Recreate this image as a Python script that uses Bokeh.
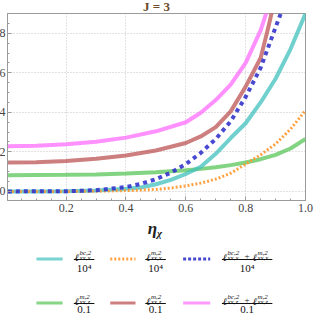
from bokeh.plotting import figure
from bokeh.layouts import column
from bokeh.models import Range1d, FixedTicker
from bokeh.core.properties import value
from bokeh.embed import file_html
from bokeh.resources import INLINE

# ---------------- data ----------------
x_cyan = [0.005, 0.1, 0.2, 0.3, 0.4, 0.45, 0.5, 0.55, 0.6, 0.65, 0.7, 0.75, 0.8, 0.85, 0.9, 0.95, 1.0]
y_cyan = [0.0, 0.0, 0.01, 0.05, 0.13, 0.2, 0.36, 0.58, 0.88, 1.25, 1.9, 2.7, 3.45, 4.5, 5.7, 7.2, 9.0]

x_orange = [0.005, 0.2, 0.3, 0.4, 0.5, 0.55, 0.6, 0.65, 0.7, 0.75, 0.8, 0.85, 0.9, 0.95, 1.0]
y_orange = [0.0, 0.0, 0.01, 0.04, 0.1, 0.17, 0.28, 0.42, 0.62, 0.92, 1.38, 1.85, 2.4, 3.15, 4.1]

x_blue = [0.005, 0.2, 0.3, 0.4, 0.45, 0.5, 0.55, 0.6, 0.65, 0.7, 0.75, 0.8, 0.85, 0.9, 0.925]
y_blue = [0.0, 0.01, 0.06, 0.22, 0.38, 0.62, 0.95, 1.38, 1.95, 2.65, 3.55, 4.78, 6.25, 8.3, 9.3]

x_green = [0.005, 0.1, 0.2, 0.3, 0.4, 0.5, 0.6, 0.65, 0.7, 0.75, 0.8, 0.85, 0.9, 0.95, 1.0]
y_green = [0.82, 0.83, 0.84, 0.86, 0.9, 0.97, 1.07, 1.14, 1.22, 1.33, 1.46, 1.63, 1.85, 2.17, 2.65]

x_red = [0.005, 0.1, 0.2, 0.3, 0.4, 0.5, 0.6, 0.65, 0.7, 0.75, 0.8, 0.85, 0.875, 0.9]
y_red = [1.46, 1.48, 1.54, 1.65, 1.82, 2.07, 2.45, 2.78, 3.25, 4.05, 5.3, 6.75, 8.25, 9.9]

x_pink = [0.005, 0.1, 0.2, 0.3, 0.4, 0.5, 0.6, 0.65, 0.7, 0.75, 0.8, 0.85, 0.875]
y_pink = [2.28, 2.31, 2.38, 2.51, 2.72, 3.04, 3.5, 3.98, 4.62, 5.4, 6.5, 8.15, 9.3]

x_ticks = [0.2, 0.4, 0.6, 0.8, 1.0]
x_tick_labels = ["0.2", "0.4", "0.6", "0.8", "1.0"]
y_ticks = [0, 2, 4, 6, 8]

title_text = "J = 3"
denominators = ["10⁴", "10⁴", "10⁴", "0.1", "0.1", "0.1"]
numerators = [
    [("bc,2", "xx,x")],
    [("m,2", "xx,x")],
    [("bc,2", "xx,x"), ("m,2", "xx,x")],
    [("m,2", "xx,z")],
    [("m,2", "xx,z")],
    [("bc,2", "xx,z"), ("m,2", "xx,z")],
]

SERIF = "Liberation Serif"

# ---------------- main plot ----------------
p = figure(width=319, height=218, output_backend="svg", toolbar_location=None,
           x_range=Range1d(0.004, 1.0), y_range=Range1d(-0.46, 9.0),
           min_border_left=0, min_border_right=10, min_border_top=0, min_border_bottom=0)
p.background_fill_color = "white"
p.border_fill_color = "white"
p.outline_line_color = "#9a9a9a"
p.outline_line_width = 1

p.title.text = title_text
p.title.align = "center"
p.title.text_font = SERIF
p.title.text_font_style = "bold"
p.title.text_font_size = "13px"
p.title.text_color = "#6e4c2a"
p.title.standoff = 0
p.title.offset = 0

p.xaxis.ticker = FixedTicker(ticks=x_ticks, minor_ticks=[i * 0.05 for i in range(1, 20)])
p.xaxis.major_label_overrides = {t: s for t, s in zip(x_ticks, x_tick_labels)}
p.yaxis.ticker = FixedTicker(ticks=y_ticks, minor_ticks=[i * 0.5 for i in range(0, 19)])
for ax in (p.xaxis[0], p.yaxis[0]):
    ax.axis_line_color = "#9a9a9a"
    ax.major_tick_line_color = "#9a9a9a"
    ax.minor_tick_line_color = "#9a9a9a"
    ax.major_tick_in = 4
    ax.major_tick_out = 0
    ax.minor_tick_in = 2
    ax.minor_tick_out = 0
    ax.major_label_text_font = SERIF
    ax.major_label_text_font_size = "12px"
    ax.major_label_text_color = "#444444"
p.xaxis.major_label_standoff = 3
p.yaxis.major_label_standoff = 2

p.xgrid.ticker = FixedTicker(ticks=x_ticks)
p.ygrid.ticker = FixedTicker(ticks=y_ticks)
for g in (p.xgrid[0], p.ygrid[0]):
    g.grid_line_color = "#c4c4c4"
    g.grid_line_dash = "1 2"
    g.grid_line_width = 1

styles = [
    (x_green, y_green, "#52c452", 0.72, 4, "solid"),
    (x_red, y_red, "#b84848", 0.7, 4, "solid"),
    (x_pink, y_pink, "#ff6cff", 0.75, 4, "solid"),
    (x_cyan, y_cyan, "#40c0bc", 0.75, 4, "solid"),
    (x_orange, y_orange, "#ff9830", 0.9, 3, "2 2"),
    (x_blue, y_blue, "#3434cc", 0.9, 4, "4 4"),
]
for xs, ys, c, a, w, d in styles:
    p.line(xs, ys, line_color=c, line_alpha=a, line_width=w, line_dash=d)

# ---------------- legend / axis-label panel ----------------
leg = figure(width=319, height=108, output_backend="svg", toolbar_location=None,
             x_range=Range1d(0, 319), y_range=Range1d(326, 218),
             min_border=0, min_border_left=0, min_border_right=0,
             min_border_top=0, min_border_bottom=0)
leg.axis.visible = False
leg.grid.visible = False
leg.outline_line_color = None
leg.background_fill_color = "white"
leg.border_fill_color = "white"

# x-axis label  η_χ
leg.text([160], [232], text=["η"], text_font=value(SERIF), text_font_style="bold italic",
         text_font_size="17px", text_align="right", text_baseline="alphabetic", text_color="#222222")
leg.text([160], [236], text=["χ"], text_font=value(SERIF), text_font_style="bold italic",
         text_font_size="11px", text_align="left", text_baseline="alphabetic", text_color="#222222")

leg_colors = ["#40c0bc", "#ff9830", "#3434cc", "#52c452", "#b84848", "#ff6cff"]
leg_alpha = [0.7, 0.9, 0.9, 0.7, 0.7, 0.7]
leg_dash = ["solid", "2 2", "3 2", "solid", "solid", "solid"]
sample_x = [(31, 59), (110, 137), (188, 217)]
frac_cx = [82, 158.5, 256.5]
row_y = [263, 307]

for i in range(6):
    r, ccol = divmod(i, 3)
    by = row_y[r]
    x1, x2 = sample_x[ccol]
    leg.line([x1, x2], [by - 0.5, by - 0.5], line_color=leg_colors[i], line_alpha=leg_alpha[i],
             line_width=3, line_dash=leg_dash[i])
    terms = numerators[i]
    term_w = 20
    plus_w = 12
    total = term_w * len(terms) + plus_w * (len(terms) - 1)
    cx = frac_cx[ccol]
    x0 = cx - total / 2
    for k, (sup, sub) in enumerate(terms):
        tx = x0 + k * (term_w + plus_w)
        leg.text([tx], [by - 2], text=["ℓ"], text_font=value("DejaVu Serif"), text_font_style="italic",
                 text_font_size="10px", text_align="left", text_baseline="alphabetic", text_color="#111111")
        leg.text([tx + 5], [by - 7], text=[sup], text_font=value(SERIF), text_font_style="italic",
                 text_font_size="7px", text_align="left", text_baseline="alphabetic", text_color="#111111")
        leg.text([tx + 5], [by - 2], text=[sub], text_font=value(SERIF), text_font_style="italic",
                 text_font_size="7px", text_align="left", text_baseline="alphabetic", text_color="#111111")
        if k < len(terms) - 1:
            leg.text([tx + term_w + plus_w / 2], [by - 4], text=["+"], text_font=value(SERIF),
                     text_font_size="9px", text_align="center", text_baseline="middle", text_color="#111111")
    leg.line([cx - total / 2 - 1, cx + total / 2 + 1], [by, by], line_color="#111111", line_width=1)
    leg.text([cx], [by + 2], text=[denominators[i]], text_font=value(SERIF), text_font_size="11px",
             text_align="center", text_baseline="top", text_color="#111111")

layout = column(p, leg, spacing=0, styles={"margin-left": "-4px", "margin-top": "-4px"})

open("out.html", "w").write(file_html(layout, INLINE))
